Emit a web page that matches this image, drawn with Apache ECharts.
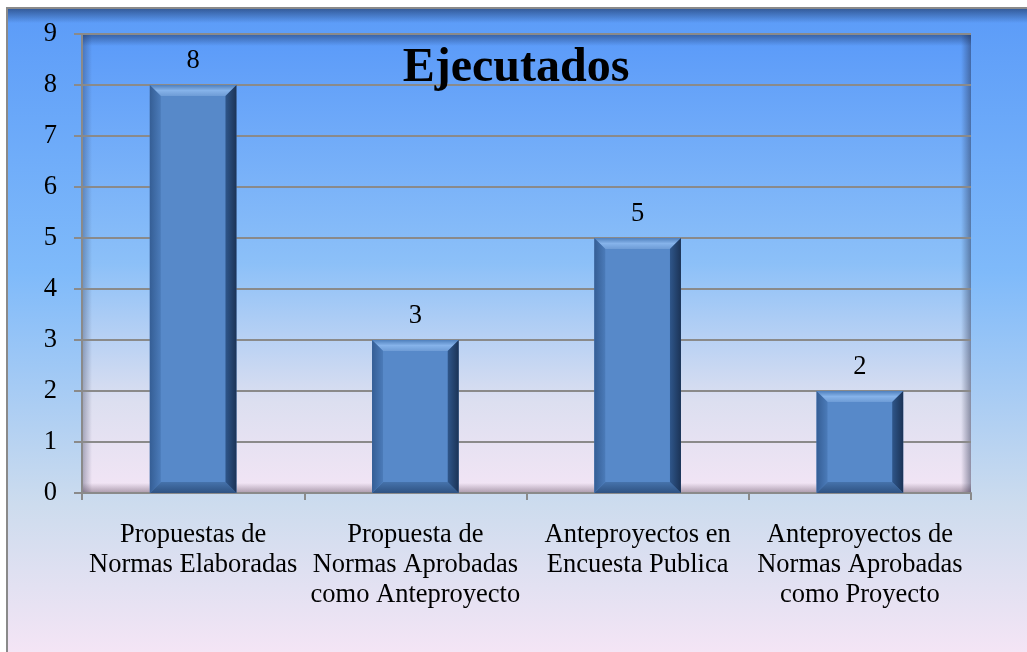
<!DOCTYPE html>
<html>
<head>
<meta charset="utf-8">
<script src="https://cdn.jsdelivr.net/npm/echarts@6/dist/echarts.min.js"></script>
<style>
html,body{margin:0;padding:0;background:#fff;}
#c{width:1027px;height:652px;}
</style>
</head>
<body>
<div id="c"></div>
<script>
var titleText = 'Ejecutados';
var categories = [
  'Propuestas de\nNormas Elaboradas',
  'Propuesta de\nNormas Aprobadas\ncomo Anteproyecto',
  'Anteproyectos en\nEncuesta Publica',
  'Anteproyectos de\nNormas Aprobadas\ncomo Proyecto'
];
var values = [8, 3, 5, 2];
var yMin = 0, yMax = 9, yInterval = 1;

var G = {left: 82, top: 34, right: 56, bottom: 159};
var W = 1027, H = 652;
var pw = W - G.left - G.right, ph = H - G.top - G.bottom;
var serif = '"Liberation Serif","Times New Roman",serif';
var BAR_FRAC = 0.39;

var chart = echarts.init(document.getElementById('c'));
function lin(x1,y1,x2,y2,stops){return new echarts.graphic.LinearGradient(x1,y1,x2,y2,stops);}

function bevel(params, api){
  var top = api.coord([api.value(0), api.value(1)]);
  var base = api.coord([api.value(0), 0]);
  var w = api.size([1, 0])[0] * BAR_FRAC;
  var l = top[0] - w/2, r = top[0] + w/2, t = top[1], b = base[1];
  var d = Math.min(11, (b - t)/2);
  return {type:'group', children:[
    {type:'polygon', shape:{points:[[l,t],[r,t],[r-d,t+d],[l+d,t+d]]},
      style:{fill: lin(0,0,0,1,[{offset:0,color:'#4f80bd'},{offset:0.5,color:'#86b3ea'},{offset:1,color:'#6e9cd6'}])}},
    {type:'polygon', shape:{points:[[l,b],[r,b],[r-d,b-d],[l+d,b-d]]},
      style:{fill: lin(0,0,0,1,[{offset:0,color:'#4673ac'},{offset:1,color:'#2e5282'}])}},
    {type:'polygon', shape:{points:[[r,t],[r,b],[r-d,b-d],[r-d,t+d]]},
      style:{fill: lin(0,0,1,0,[{offset:0,color:'#2f568a'},{offset:1,color:'#1b3356'}])}},
    {type:'polygon', shape:{points:[[l,t],[l,b],[l+d,b-d],[l+d,t+d]]},
      style:{fill: lin(0,0,1,0,[{offset:0,color:'#355e95'},{offset:1,color:'#4b7bb9'}])}}
  ]};
}

chart.setOption({
  animation: false,
  graphic: [
    {type:'rect', z:-10, silent:true, shape:{x:7,y:8,width:W+10,height:H+10},
      style:{fill: lin(0,0,0,1,[{offset:0,color:'#5b9bf8'},{offset:0.4,color:'#7fbafa'},{offset:0.75,color:'#cddcee'},{offset:1,color:'#f9e6f6'}]), stroke:'#8a8a8a', lineWidth:2}},
    {type:'rect', z:-9, silent:true, shape:{x:8,y:9,width:W,height:14},
      style:{fill: lin(0,0,0,1,[{offset:0,color:'rgba(20,40,80,0.55)'},{offset:1,color:'rgba(20,40,80,0)'}])}},
    {type:'rect', z:-8, silent:true, shape:{x:G.left,y:G.top,width:pw,height:ph},
      style:{fill: lin(0,0,0,1,[{offset:0,color:'#5a9af9'},{offset:0.5,color:'#8cc0f8'},{offset:0.8,color:'#dcdff0'},{offset:1,color:'#f3e5f5'}])}},
    {type:'rect', z:-7, silent:true, shape:{x:G.left,y:G.top,width:pw,height:12},
      style:{fill: lin(0,0,0,1,[{offset:0,color:'rgba(20,40,80,0.5)'},{offset:1,color:'rgba(20,40,80,0)'}])}},
    {type:'rect', z:-7, silent:true, shape:{x:G.left,y:G.top,width:10,height:ph},
      style:{fill: lin(0,0,1,0,[{offset:0,color:'rgba(30,40,70,0.35)'},{offset:1,color:'rgba(30,40,70,0)'}])}},
    {type:'rect', z:-7, silent:true, shape:{x:G.left+pw-10,y:G.top,width:10,height:ph},
      style:{fill: lin(0,0,1,0,[{offset:0,color:'rgba(30,40,70,0)'},{offset:1,color:'rgba(30,40,70,0.45)'}])}},
    {type:'rect', z:-7, silent:true, shape:{x:G.left,y:G.top+ph-10,width:pw,height:10},
      style:{fill: lin(0,0,0,1,[{offset:0,color:'rgba(60,40,60,0)'},{offset:1,color:'rgba(60,40,60,0.4)'}])}},
    {type:'text', z:10, silent:true, x:516, y:69,
      style:{text:titleText, font:'bold 48px '+serif, fill:'#000', textAlign:'center', textVerticalAlign:'middle'}}
  ],
  grid: {left:G.left, top:G.top, right:G.right, bottom:G.bottom, containLabel:false},
  xAxis: {
    type:'category', data:categories,
    axisLine:{show:true, lineStyle:{color:'#8a8a8a', width:2}},
    axisTick:{show:true, length:7, lineStyle:{color:'#8a8a8a', width:2}},
    axisLabel:{color:'#000', fontFamily:serif, fontSize:26.5, lineHeight:30, margin:27, interval:0, align:'center'}
  },
  yAxis: {
    type:'value', min:yMin, max:yMax, interval:yInterval,
    axisLine:{show:true, lineStyle:{color:'#8a8a8a', width:2}},
    axisTick:{show:true, length:8, lineStyle:{color:'#8a8a8a', width:2}},
    axisLabel:{color:'#000', fontFamily:serif, fontSize:26.5, margin:25},
    splitLine:{show:true, lineStyle:{color:'#8a8a8a', width:2}}
  },
  series: [{
    type:'bar', data:values, barWidth:(BAR_FRAC*100)+'%',
    itemStyle:{ color:'#5789c9' },
    label:{show:true, position:'top', distance:10, color:'#000', fontFamily:serif, fontSize:26.5}
  },{
    type:'custom', data:values.map(function(v,i){return [i,v];}), renderItem:bevel, silent:true, z:3
  }]
});
</script>
</body>
</html>
